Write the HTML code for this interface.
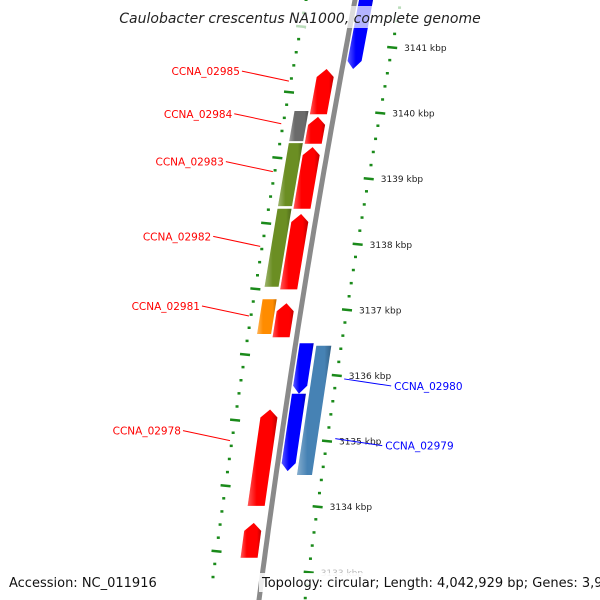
<!DOCTYPE html>
<html><head><meta charset="utf-8">
<style>
html,body{margin:0;padding:0;background:#fff;}
svg{display:block;font-family:"DejaVu Sans","Liberation Sans",sans-serif;}
</style></head>
<body>
<svg id="map" width="600" height="600" viewBox="0 0 600 600" xmlns="http://www.w3.org/2000/svg">
<defs>
<linearGradient id="shade" x1="0" y1="0" x2="1" y2="0">
<stop offset="0" stop-color="#fff" stop-opacity="0.35"/>
<stop offset="0.3" stop-color="#fff" stop-opacity="0"/>
<stop offset="0.8" stop-color="#000" stop-opacity="0"/>
<stop offset="1" stop-color="#000" stop-opacity="0.25"/>
</linearGradient>
</defs>
<g id="rings"></g>
<path id="backbone" fill="none" stroke="#8a8a8a" stroke-width="5"/>
<g id="features"></g>
<g id="labels"></g>
<rect x="120" y="6" width="360" height="22" fill="#fff" opacity="0.7"/>
<text x="300" y="23" text-anchor="middle" font-size="14" font-style="italic" fill="#222">Caulobacter crescentus NA1000, complete genome</text>
<text x="9" y="587" font-size="13" fill="#111">Accession: NC_011916</text>
<rect x="259" y="573" width="341" height="19" fill="#fff" opacity="0.85"/>
<text x="262" y="587" font-size="13" fill="#111">Topology: circular; Length: 4,042,929 bp; Genes: 3,933</text>
</svg>
<script>
// Data
const tickKbp = [3141,3140,3139,3138,3137,3136,3135,3134,3133];
const tickLabels = ["3141 kbp","3140 kbp","3139 kbp","3138 kbp","3137 kbp","3136 kbp","3135 kbp","3134 kbp","3133 kbp"];
const featNames = ["top-blue","CCNA_02985","r2","CCNA_02983-fwd","CCNA_02982-fwd","CCNA_02981-fwd","CCNA_02978","r7","CCNA_02984","CCNA_02983","CCNA_02982","CCNA_02981","CCNA_02980-b1","CCNA_02979","CCNA_02980"];
const featStart = [3141.9,3140.68,3139.95,3139.49,3138.47,3137.11,3135.49,3133.76,3140.04,3139.55,3138.55,3137.17,3136.50,3135.73,3136.46];
const featEnd   = [3140.65,3139.96,3139.51,3138.52,3137.29,3136.56,3133.99,3133.2,3139.55,3138.56,3137.33,3136.61,3135.70,3134.52,3134.46];
const featTrack = ["rev","fwd","fwd","fwd","fwd","fwd","fwd","fwd","inner","inner","inner","inner","rev","rev","rev2"];
const featColor = ["#0000ff","#ff0000","#ff0000","#ff0000","#ff0000","#ff0000","#ff0000","#ff0000","#6b6b6b","#6b8e23","#6b8e23","#ff8c00","#0000ff","#0000ff","#4682b4"];
const featArrow = [-1,1,1,1,1,1,1,1,0,0,0,0,-1,-1,0];
const labelText = ["CCNA_02985","CCNA_02984","CCNA_02983","CCNA_02982","CCNA_02981","CCNA_02978","CCNA_02980","CCNA_02979"];
const labelKbp  = [3140.48,3139.83,3139.1,3137.96,3136.9,3135.0,3135.94,3135.03];
const labelSide = ["L","L","L","L","L","L","R","R"];

// Axis functions
const NS="http://www.w3.org/2000/svg";
function yOf(k){return 47+(3141-k)*65.6;}
function bx(y){return 355-0.19*y+0.00005*y*y;}
const tracks={fwd:[-24,-7],inner:[-40,-26],rev:[4,18],rev2:[21,36]};
function mk(tag,attrs,parent){const e=document.createElementNS(NS,tag);for(const k in attrs)e.setAttribute(k,attrs[k]);parent.appendChild(e);return e;}

// backbone
let d="";for(let y=-10;y<=610;y+=10){d+=(y===-10?"M":"L")+bx(y).toFixed(1)+","+y+" ";}
document.getElementById("backbone").setAttribute("d",d);

// rings
const rings=document.getElementById("rings");
for(let k=3142;k>=3132.6;k-=0.2){
  const kk=Math.round(k*5)/5;const major=Math.abs(kk-Math.round(kk))<0.01;
  const yr=yOf(kk), yl=yr-21;
  const xr=bx(yr)+46, xl=bx(yl)-49;
  const t1=mk("line",{x1:xr-(major?5:1.5),y1:yr,x2:xr+(major?5:1.5),y2:yr+(major?1:0),stroke:"#1a8a1a","stroke-width":2.5},rings);
  
  
  const t2=mk("line",{x1:xl-(major?5:1.5),y1:yl,x2:xl+(major?5:1.5),y2:yl+(major?1:0),stroke:"#1a8a1a","stroke-width":2.5},rings);
  
  
}
tickKbp.forEach((k,i)=>{
  const y=yOf(k);
  const t=mk("text",{x:bx(y)+58,y:y+4,"font-size":9,fill:i===8?"#bbb":"#222"},rings);
  t.textContent=tickLabels[i];
  
  
});

// features
const fg=document.getElementById("features");
featStart.forEach((s,i)=>{
  const e=featEnd[i];const tr=tracks[featTrack[i]];
  let y1=yOf(s)+1, y2=yOf(e)-1; // y1 top, y2 bottom
  const a=featArrow[i], ah=8;
  const p=[];
  const L=y=>bx(y)+tr[0], R=y=>bx(y)+tr[1];
  if(a===1){ // points up (top)
    const yt=y1, yb=y1+ah;
    p.push([(L(yt)+R(yt))/2,yt],[R(yb),yb],[R(y2),y2],[L(y2),y2],[L(yb),yb]);
  } else if(a===-1){
    const yb=y2, yt=y2-ah;
    p.push([L(y1),y1],[R(y1),y1],[R(yt),yt],[(L(yb)+R(yb))/2,yb],[L(yt),yt]);
  } else {
    p.push([L(y1),y1],[R(y1),y1],[R(y2),y2],[L(y2),y2]);
  }
  const pts=p.map(q=>q[0].toFixed(1)+","+q[1].toFixed(1)).join(" ");
  const g=mk("g",{},fg);
  
  
  mk("polygon",{points:pts,fill:featColor[i]},g);
  mk("polygon",{points:pts,fill:"url(#shade)"},g);
});

// labels
const lg=document.getElementById("labels");
labelText.forEach((t,i)=>{
  const y=yOf(labelKbp[i]);
  if(labelSide[i]==="L"){
    const xe=bx(y)-51, xs=xe-47, ys=y-10;
    const l=mk("line",{x1:xs,y1:ys,x2:xe,y2:y,stroke:"#ff0000","stroke-width":1},lg);
    
    
    const tx=mk("text",{x:xs-2,y:ys+4,"font-size":10.5,fill:"#ff0000","text-anchor":"end"},lg);
    tx.textContent=t;
    
    
  } else {
    const xs=bx(y)+54, xe=xs+47, ye=y+7;
    const l=mk("line",{x1:xs,y1:y,x2:xe,y2:ye,stroke:"#0000ff","stroke-width":1},lg);
    
    
    const tx=mk("text",{x:xe+3,y:ye+4,"font-size":10.5,fill:"#0000ff"},lg);
    tx.textContent=t;
    
    
  }
});
</script>
</body></html>
